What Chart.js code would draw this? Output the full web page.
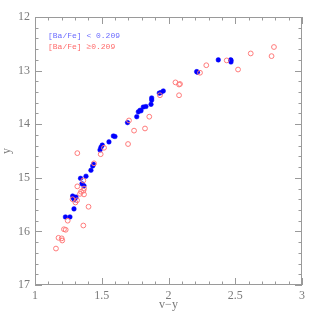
<!DOCTYPE html>
<html>
<head>
<meta charset="utf-8">
<script src="https://cdn.jsdelivr.net/npm/chart.js@4/dist/chart.umd.min.js"></script>
<style>
  body { margin: 0; background: #fff; }
  canvas { display: block; }
</style>
</head>
<body>
<canvas id="cmd-chart" width="319" height="319"></canvas>
<script>
// [Ba/Fe] < 0.209 (filled blue)
const lowBaX = [1.228, 1.262, 1.292, 1.282, 1.300, 1.307, 1.294, 1.288, 1.352, 1.367,
                1.341, 1.382, 1.419, 1.432, 1.438, 1.487, 1.494, 1.504, 1.554, 1.587,
                1.599, 1.693, 1.762, 1.774, 1.787, 1.794, 1.811, 1.831, 1.869, 1.874,
                1.874, 1.931, 1.944, 1.961, 2.211, 2.217, 2.373, 2.466, 2.468, 2.468];
const lowBaY = [15.73, 15.73, 15.58, 15.34, 15.38, 15.36, 15.41, 15.38, 15.11, 15.15,
                15.01, 14.97, 14.86, 14.78, 14.75, 14.48, 14.43, 14.39, 14.33, 14.22,
                14.23, 13.97, 13.86, 13.77, 13.74, 13.75, 13.68, 13.67, 13.63, 13.55,
                13.51, 13.42, 13.41, 13.38, 13.02, 13.03, 12.80, 12.80, 12.84, 12.81];

// [Ba/Fe] >= 0.209 (open red)
const highBaX = [1.157, 1.176, 1.200, 1.204, 1.217, 1.230, 1.245, 1.362, 1.401, 1.281,
                 1.303, 1.315, 1.345, 1.363, 1.337, 1.367, 1.317, 1.367, 1.362, 1.317,
                 1.442, 1.492, 1.517, 1.697, 1.704, 1.742, 1.824, 1.856, 1.936, 2.052,
                 2.079, 2.086, 2.079, 2.236, 2.283, 2.436, 2.521, 2.616, 2.772, 2.790];
const highBaY = [16.32, 16.12, 16.13, 16.17, 15.96, 15.97, 15.80, 15.89, 15.54, 15.40,
                 15.46, 15.42, 15.26, 15.24, 15.30, 15.31, 15.16, 15.20, 15.05, 14.54,
                 14.73, 14.56, 14.44, 14.37, 13.93, 14.12, 14.08, 13.86, 13.46, 13.22,
                 13.26, 13.25, 13.46, 13.04, 12.90, 12.81, 12.98, 12.68, 12.73, 12.56];

const xTickValues = [1, 1.5, 2, 2.5, 3];
const yTickValues = [12, 13, 14, 15, 16, 17];
const legendLabels = ['[Ba/Fe] < 0.209', '[Ba/Fe] \u22650.209'];

const toPoints = (xs, ys) => xs.map((x, i) => ({ x: x, y: ys[i] }));

const axisColor = '#9a9a9a';
const textColor = '#7a7a7a';
const tickFont = { family: 'Liberation Serif', size: 12 };

// inward ticks on all four sides, like the original plot frame
const frameTicks = {
    id: 'frameTicks',
    afterDraw(chart) {
        const ctx = chart.ctx;
        const a = chart.chartArea;
        const xs = chart.scales.x;
        const ys = chart.scales.y;
        ctx.save();
        ctx.strokeStyle = axisColor;
        ctx.lineWidth = 1;
        ctx.beginPath();
        for (let i = 0; i <= 20; i++) {
            const v = 1 + i * 0.1;
            const px = Math.round(xs.getPixelForValue(v)) + 0.5;
            const len = (i % 5 === 0) ? 7 : 3.5;
            ctx.moveTo(px, a.bottom); ctx.lineTo(px, a.bottom - len);
            ctx.moveTo(px, a.top); ctx.lineTo(px, a.top + len);
        }
        for (let i = 0; i <= 25; i++) {
            const v = 12 + i * 0.2;
            const py = Math.round(ys.getPixelForValue(v)) + 0.5;
            const len = (i % 5 === 0) ? 7 : 3.5;
            ctx.moveTo(a.left, py); ctx.lineTo(a.left + len, py);
            ctx.moveTo(a.right, py); ctx.lineTo(a.right - len, py);
        }
        ctx.stroke();
        ctx.strokeRect(a.left + 0.5, a.top + 0.5, a.right - a.left - 1, a.bottom - a.top - 1);

        // legend text
        ctx.font = '8px "Liberation Mono"';
        ctx.textBaseline = 'middle';
        ctx.textAlign = 'left';
        ctx.fillStyle = '#6b6bff';
        ctx.fillText(legendLabels[0], 48, 36);
        ctx.fillStyle = '#ff6b6b';
        ctx.fillText(legendLabels[1], 48, 47);
        ctx.restore();
    }
};

const ctx = document.getElementById('cmd-chart').getContext('2d');
const cmdChart = new Chart(ctx, {
    type: 'scatter',
    data: {
        datasets: [{
            label: legendLabels[1],
            data: toPoints(highBaX, highBaY),
            pointRadius: 2.4,
            pointBorderWidth: 1,
            borderColor: '#ff7a7a',
            backgroundColor: 'rgba(0,0,0,0)'
        }, {
            label: legendLabels[0],
            data: toPoints(lowBaX, lowBaY),
            pointRadius: 2.3,
            pointBorderWidth: 0.5,
            borderColor: '#0000ff',
            backgroundColor: '#0000ff'
        }]
    },
    options: {
        responsive: false,
        animation: false,
        layout: { padding: { top: 17, right: 17, left: 0, bottom: 7 } },
        plugins: {
            legend: { display: false },
            tooltip: { enabled: false }
        },
        scales: {
            x: {
                type: 'linear',
                min: 1,
                max: 3,
                afterBuildTicks: s => { s.ticks = xTickValues.map(v => ({ value: v })); },
                afterFit: s => { s.height = 27; },
                grid: { display: false, drawTicks: false },
                border: { display: false },
                ticks: {
                    color: textColor,
                    font: tickFont,
                    padding: 4,
                    maxRotation: 0,
                    callback: v => String(v)
                },
                title: {
                    display: true,
                    text: 'v\u2212y',
                    color: textColor,
                    font: tickFont,
                    padding: { top: 0, bottom: 0 }
                }
            },
            y: {
                type: 'linear',
                reverse: true,
                min: 12,
                max: 17,
                afterBuildTicks: s => { s.ticks = yTickValues.map(v => ({ value: v })); },
                afterFit: s => { s.width = 35; },
                grid: { display: false, drawTicks: false },
                border: { display: false },
                ticks: {
                    color: textColor,
                    font: tickFont,
                    padding: 5,
                    callback: v => String(v)
                },
                title: {
                    display: true,
                    text: 'y',
                    color: textColor,
                    font: tickFont,
                    padding: { top: 0, bottom: 0 }
                }
            }
        }
    },
    plugins: [frameTicks]
});
</script>
</body>
</html>
